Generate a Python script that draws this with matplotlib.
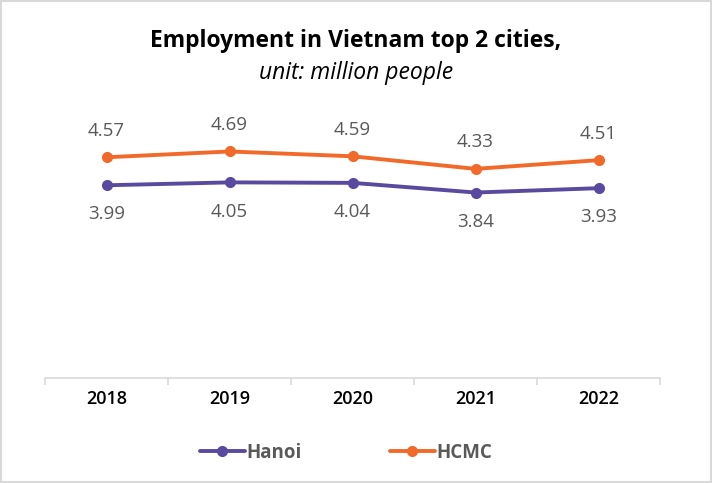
import matplotlib.pyplot as plt
from matplotlib.patches import Rectangle

years = ["2018", "2019", "2020", "2021", "2022"]
hanoi = [3.99, 4.05, 4.04, 3.84, 3.93]
hcmc = [4.57, 4.69, 4.59, 4.33, 4.51]

PURPLE = "#5A4A9F"
ORANGE = "#F26A2A"
GREY = "#595959"

plt.rcParams["font.family"] = ["Open Sans", "DejaVu Sans"]

fig = plt.figure(figsize=(7.12, 4.83), dpi=100)
ax = fig.add_axes([0.0632, 0.2174, 0.8638, 0.5])

x = list(range(len(years)))
ax.plot(x, hanoi, color=PURPLE, lw=2.8, marker="o", ms=7, label="Hanoi",
        solid_capstyle="round")
ax.plot(x, hcmc, color=ORANGE, lw=2.8, marker="o", ms=7, label="HCMC",
        solid_capstyle="round")

for i, v in enumerate(hcmc):
    ax.annotate(f"{v:.2f}", (i, v), xytext=(0, 19), textcoords="offset points",
                ha="center", va="center", fontsize=13.5, color=GREY)
for i, v in enumerate(hanoi):
    ax.annotate(f"{v:.2f}", (i, v), xytext=(0, -21), textcoords="offset points",
                ha="center", va="center", fontsize=13.5, color=GREY)

ax.set_xlim(-0.5, len(years) - 0.5)
ax.set_ylim(0, 5)
ax.set_yticks([])
ax.set_xticks(x)
ax.set_xticklabels(years, fontsize=13, color="black", fontweight="semibold")
ax.set_xticks([i - 0.5 for i in range(len(years) + 1)], minor=True)
ax.tick_params(axis="x", which="major", length=0, pad=9)
ax.tick_params(axis="x", which="minor", length=5, width=1.2, color="#D9D9D9")
for s in ["top", "right", "left"]:
    ax.spines[s].set_visible(False)
ax.spines["bottom"].set_color("#D9D9D9")
ax.spines["bottom"].set_linewidth(1.2)

fig.text(0.5, 0.915, "Employment in Vietnam top 2 cities,", ha="center", va="center",
         fontsize=16.5, fontweight="bold", color="black")
fig.text(0.5, 0.848, "unit: million people", ha="center", va="center",
         fontsize=16.5, style="italic", color="black")

leg = fig.legend(loc="center", bbox_to_anchor=(0.486, 0.063), ncol=2, frameon=False,
                 handlelength=2.4, columnspacing=4.7, handletextpad=0.1,
                 prop={"size": 13.5, "weight": "bold"})
for t in leg.get_texts():
    t.set_color(GREY)

fig.patches.append(Rectangle((0.002, 0.003), 0.996, 0.994, transform=fig.transFigure,
                             fill=False, edgecolor="#D9D9D9", lw=1.5))

fig.savefig("out.png", dpi=100)
